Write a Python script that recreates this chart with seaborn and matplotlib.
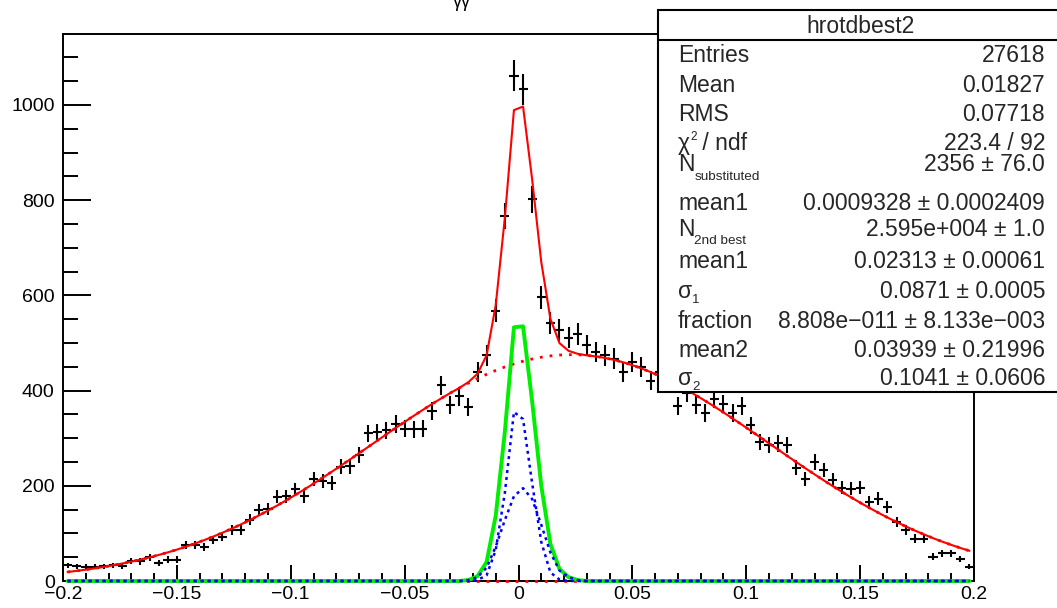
import numpy as np
import matplotlib
matplotlib.use("Agg")
import matplotlib.pyplot as plt
import seaborn as sns
from matplotlib.patches import Rectangle
from matplotlib.lines import Line2D
from matplotlib.ticker import FixedLocator, FixedFormatter, MultipleLocator

# ---------------- data ----------------
bin_low, bin_high, n_bins = -0.2, 0.2, 100
counts = [33, 31, 30, 30, 31, 33, 31, 42, 41, 50,
          38, 45, 45, 75, 75, 72, 86, 93, 108, 108,
          129, 149, 152, 177, 178, 193, 178, 214, 210, 206,
          240, 241, 265, 310, 313, 317, 330, 320, 319, 320,
          358, 411, 369, 388, 365, 440, 474, 568, 767, 1061,
          1033, 802, 596, 542, 528, 511, 519, 495, 481, 474,
          467, 439, 460, 449, 421, 440, 425, 367, 395, 369,
          352, 383, 372, 353, 367, 327, 292, 285, 289, 285,
          238, 215, 250, 233, 212, 196, 194, 196, 166, 173,
          156, 124, 107, 89, 89, 51, 58, 58, 46, 30]

# fit parameters shown in the stats box
n_2nd_best = 2.595e4
mean_bg = 0.02313
sigma_bg = 0.0871
fraction = 8.808e-11
mean2 = 0.03939
sigma2 = 0.1041

# peak components (blue dotted), read at bin centres of bins 44..56
peak_bin_index = [44, 45, 46, 47, 48, 49, 50, 51, 52, 53, 54, 55, 56]
peak_narrow = [0, 2, 12, 65, 185, 355, 340, 205, 82, 18, 3, 0, 0]
peak_wide = [2, 8, 28, 72, 128, 178, 195, 172, 118, 60, 22, 8, 2]

x_ticks = [-0.2, -0.15, -0.1, -0.05, 0.0, 0.05, 0.1, 0.15, 0.2]
x_tick_labels = ["\u22120.2", "\u22120.15", "\u22120.1", "\u22120.05", "0",
                 "0.05", "0.1", "0.15", "0.2"]
y_ticks = [0, 200, 400, 600, 800, 1000]
y_tick_labels = ["0", "200", "400", "600", "800", "1000"]

stats_title = "hrotdbest2"
stats_labels = [
    [("Entries", 16.5, 0)],
    [("Mean", 16.5, 0)],
    [("RMS", 16.5, 0)],
    [("\u03c7", 16.5, 0), ("2", 8.5, -10), (" / ndf", 16.5, 0)],
    [("N", 16.5, 0), ("substituted", 9.7, 9)],
    [("mean1", 16.5, 0)],
    [("N", 16.5, 0), ("2nd best", 9.7, 8)],
    [("mean1", 16.5, 0)],
    [("\u03c3", 16.5, 0), ("1", 9.5, 5)],
    [("fraction", 16.5, 0)],
    [("mean2", 16.5, 0)],
    [("\u03c3", 16.5, 0), ("2", 9.5, 5)],
]
stats_values = ["27618", "0.01827", "0.07718", "223.4 / 92", "2356 \u00b1 76.0",
                "0.0009328 \u00b1 0.0002409", "2.595e+004 \u00b1 1.0",
                "0.02313 \u00b1 0.00061", "0.0871 \u00b1 0.0005",
                "8.808e\u2212011 \u00b1 8.133e\u2212003", "0.03939 \u00b1 0.21996",
                "0.1041 \u00b1 0.0606"]
stats_baselines = [62.5, 92, 121, 150, 171, 210, 236, 268, 298, 328, 357, 385]

# ---------------- derived ----------------
counts = np.array(counts, dtype=float)
width = (bin_high - bin_low) / n_bins
centers = bin_low + (np.arange(n_bins) + 0.5) * width


def gauss_pdf(x, m, s):
    return np.exp(-0.5 * ((x - m) / s) ** 2) / (np.sqrt(2 * np.pi) * s)


bg_main = n_2nd_best * width * (1 - fraction) * gauss_pdf(centers, mean_bg, sigma_bg)
bg_second = n_2nd_best * width * fraction * gauss_pdf(centers, mean2, sigma2)
narrow = np.zeros(n_bins)
wide = np.zeros(n_bins)
narrow[peak_bin_index] = peak_narrow
wide[peak_bin_index] = peak_wide
peak = narrow + wide
total = bg_main + bg_second + peak

# ---------------- figure ----------------
W, H = 1057, 608
sns.set_style("white")
plt.rcParams["font.family"] = ["Liberation Sans", "DejaVu Sans"]
plt.rcParams["axes.unicode_minus"] = True

fig = plt.figure(figsize=(W / 100, H / 100), dpi=100)
fig.patch.set_facecolor("white")
ax_l, ax_r, ax_t, ax_b = 63, 974, 34, 581
ax = fig.add_axes([ax_l / W, 1 - ax_b / H, (ax_r - ax_l) / W, (ax_b - ax_t) / H])
ax.set_facecolor("white")

ax.errorbar(centers, counts, xerr=width / 2, yerr=np.sqrt(counts), fmt="none",
            ecolor="black", elinewidth=1.5, capsize=0, zorder=3)

sns.lineplot(x=centers, y=total, ax=ax, color="#ff0000", linewidth=1.5,
             estimator=None, sort=False, clip_on=False, zorder=5)
sns.lineplot(x=centers, y=bg_main, ax=ax, color="#ff0000", linewidth=2.0,
             linestyle=(0, (1.0, 2.5)), estimator=None, sort=False,
             clip_on=False, zorder=5)
sns.lineplot(x=centers, y=bg_second, ax=ax, color="#ff0000", linewidth=2.0,
             linestyle=(0, (1.0, 2.5)), estimator=None, sort=False,
             clip_on=False, zorder=6)
sns.lineplot(x=centers, y=peak, ax=ax, color="#00ee00", linewidth=2.8,
             estimator=None, sort=False, clip_on=False, zorder=6)
sns.lineplot(x=centers, y=narrow, ax=ax, color="#0000ff", linewidth=1.8,
             linestyle=(0, (1.2, 1.6)), estimator=None, sort=False,
             clip_on=False, zorder=7)
sns.lineplot(x=centers, y=wide, ax=ax, color="#0000ff", linewidth=1.8,
             linestyle=(0, (1.2, 1.6)), estimator=None, sort=False,
             clip_on=False, zorder=7)

ax.set_xlim(bin_low, bin_high)
ax.set_ylim(0, 1149)
ax.xaxis.set_major_locator(FixedLocator(x_ticks))
ax.xaxis.set_major_formatter(FixedFormatter(x_tick_labels))
ax.yaxis.set_major_locator(FixedLocator(y_ticks))
ax.yaxis.set_major_formatter(FixedFormatter(y_tick_labels))
ax.xaxis.set_minor_locator(MultipleLocator(0.01))
ax.yaxis.set_minor_locator(MultipleLocator(50))
ax.tick_params(axis="x", which="major", direction="in", length=11.5, width=1.4,
               labelsize=14, pad=3.5, color="black", labelcolor="black",
               top=False, bottom=True)
ax.tick_params(axis="x", which="minor", direction="in", length=5.8, width=1.4,
               top=False, bottom=True, color="black")
ax.tick_params(axis="y", which="major", direction="in", length=20.5, width=1.4,
               labelsize=14, pad=6, color="black", labelcolor="black",
               left=True, right=False)
ax.tick_params(axis="y", which="minor", direction="in", length=11, width=1.4,
               left=True, right=False, color="black")
for side in ["left", "bottom", "top", "right"]:
    ax.spines[side].set_visible(True)
    ax.spines[side].set_color("black")
    ax.spines[side].set_linewidth(1.4)
ax.set_xlabel("")
ax.set_ylabel("")

# ---------------- partially visible title (cut by the top edge) ----------------
fig.text(462 / W, 1 - 7 / H, "\u03b3\u03b3", fontsize=13, ha="center",
         va="baseline", color="black")

# ---------------- stats box ----------------
bx0, bx1, by0, by1 = 658, 1064, 10, 392
fig.add_artist(Rectangle((bx0 / W, 1 - by1 / H), (bx1 - bx0) / W, (by1 - by0) / H,
                         transform=fig.transFigure, facecolor="white",
                         edgecolor="black", linewidth=1.5, zorder=10))
fig.add_artist(Line2D([bx0 / W, bx1 / W], [1 - 40 / H, 1 - 40 / H],
                      transform=fig.transFigure, color="black", linewidth=1.5,
                      zorder=11))
fig.text(861 / W, 1 - 33 / H, stats_title, fontsize=16.5, ha="center",
         va="baseline", zorder=12)

renderer = fig.canvas.get_renderer()
label_x = 678
value_x = 1045
for parts, val, base in zip(stats_labels, stats_values, stats_baselines):
    x = label_x
    for s, size, dy in parts:
        t = fig.text(x / W, 1 - (base + dy) / H, s, fontsize=size, ha="left",
                     va="baseline", zorder=12)
        bb = t.get_window_extent(renderer=renderer)
        x = bb.x1
    fig.text(value_x / W, 1 - base / H, val, fontsize=16.5, ha="right",
             va="baseline", zorder=12)

fig.savefig("out.png", dpi=100, facecolor="white")
